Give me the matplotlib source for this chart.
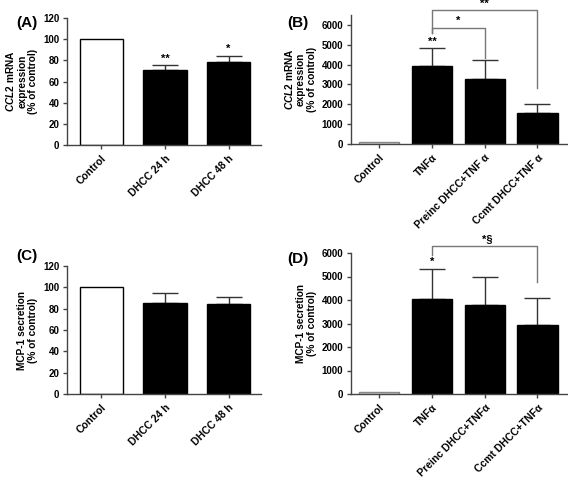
import matplotlib
matplotlib.use("Agg")
import matplotlib.pyplot as plt

plt.rcParams['font.family'] = ['Liberation Sans', 'DejaVu Sans']
plt.rcParams['font.weight'] = 'bold'
plt.rcParams['mathtext.fontset'] = 'custom'
plt.rcParams['mathtext.it'] = 'Liberation Sans:italic:bold'
plt.rcParams['mathtext.rm'] = 'Liberation Sans:bold'

# Data
cat_ac = ["Control", "DHCC 24 h", "DHCC 48 h"]
a_vals = [100, 71, 78]
a_err = [0, 4.5, 6.5]
a_sig = ["", "**", "*"]

cat_b = ["Control", "TNFα", "Preinc DHCC+TNF α", "Ccmt DHCC+TNF α"]
b_vals = [100, 3950, 3280, 1580]
b_err = [0, 880, 970, 420]
b_sig = ["", "**", "", ""]

c_vals = [100, 85, 84]
c_err = [0, 9.5, 7]

cat_d = ["Control", "TNFα", "Preinc DHCC+TNFα", "Ccmt DHCC+TNFα"]
d_vals = [100, 4030, 3800, 2940]
d_err = [0, 1290, 1160, 1160]
d_sig = ["", "*", "", ""]

W, H = 568, 482
fig = plt.figure(figsize=(W / 100, H / 100), dpi=100)

XTICKFS = 7.5
YTICKFS = 7
LABFS = 7.3


def ax_px(x0, x1, ytop, ybot):
    return fig.add_axes([x0 / W, 1 - ybot / H, (x1 - x0) / W, (ybot - ytop) / H])


def style(ax):
    for s in ['top', 'right']:
        ax.spines[s].set_visible(False)
    for s in ['left', 'bottom']:
        ax.spines[s].set_color('#444444')
        ax.spines[s].set_linewidth(1.0)
    ax.tick_params(axis='both', direction='out', length=3, width=1, colors='#444444',
                   labelcolor='black')
    ax.tick_params(axis='y', labelsize=YTICKFS, pad=2.5)
    ax.tick_params(axis='x', labelsize=XTICKFS, pad=3)
    for lab in ax.get_yticklabels():
        lab.set_fontweight('bold')


def bars(ax, cats, vals, errs, width, first_gray):
    x = list(range(len(cats)))
    fcs = ['#dcdcdc' if first_gray else 'white'] + ['black'] * (len(cats) - 1)
    ecs = ['#888888' if first_gray else 'black'] + ['black'] * (len(cats) - 1)
    ax.bar(x, vals, width=width, color=fcs, edgecolor=ecs, linewidth=1.0, zorder=2)
    for xi, v, e in zip(x, vals, errs):
        if e > 0:
            ax.errorbar(xi, v, yerr=[[0], [e]], fmt='none', ecolor='#333333',
                        elinewidth=1.0, capsize=9.5, capthick=1.0, zorder=1)
    ax.set_xticks(x)
    ax.set_xticklabels(cats, rotation=45, ha='right', rotation_mode='anchor',
                       fontsize=XTICKFS, fontweight='bold')


def ylab(ax, s):
    ax.set_ylabel(s, fontsize=LABFS, fontweight='bold', labelpad=3.5, linespacing=1.12)


# Panel A
axA = ax_px(67, 261, 18, 145)
bars(axA, cat_ac, a_vals, a_err, 0.68, False)
axA.set_xlim(-0.54, 2.51)
axA.set_ylim(0, 120)
axA.set_yticks(range(0, 121, 20))
style(axA)
ylab(axA, "$\\it{CCL2}$ mRNA\nexpression\n(% of control)")
for i, (v, e, s) in enumerate(zip(a_vals, a_err, a_sig)):
    if s:
        axA.text(i, v + e + 1.5, s, ha='center', va='bottom', fontsize=8, fontweight='bold')

# Panel B
axB = ax_px(351, 567, 15, 144)
bars(axB, cat_b, b_vals, b_err, 0.76, True)
axB.set_xlim(-0.54, 3.56)
axB.set_ylim(0, 6500)
axB.set_yticks(range(0, 6001, 1000))
style(axB)
ylab(axB, "$\\it{CCL2}$ mRNA\nexpression\n(% of control)")
for i, (v, e, s) in enumerate(zip(b_vals, b_err, b_sig)):
    if s:
        axB.text(i, v + e + 80, s, ha='center', va='bottom', fontsize=8, fontweight='bold')
br = dict(color='#777777', lw=1.0, clip_on=False)
axB.plot([1, 1, 2, 2], [5600, 5850, 5850, 4340], **br)
axB.text(1.5, 5930, "*", ha='center', va='bottom', fontsize=8, fontweight='bold')
axB.plot([1, 1, 3, 3], [5600, 6760, 6760, 2820], **br)
axB.text(2.0, 6790, "**", ha='center', va='bottom', fontsize=8, fontweight='bold')

# Panel C
axC = ax_px(67, 261, 266, 394)
bars(axC, cat_ac, c_vals, c_err, 0.68, False)
axC.set_xlim(-0.54, 2.51)
axC.set_ylim(0, 120)
axC.set_yticks(range(0, 121, 20))
style(axC)
ylab(axC, "MCP-1 secretion\n(% of control)")

# Panel D
axD = ax_px(351, 567, 253, 394)
bars(axD, cat_d, d_vals, d_err, 0.76, True)
axD.set_xlim(-0.54, 3.56)
axD.set_ylim(0, 6000)
axD.set_yticks(range(0, 6001, 1000))
style(axD)
ylab(axD, "MCP-1 secretion\n(% of control)")
for i, (v, e, s) in enumerate(zip(d_vals, d_err, d_sig)):
    if s:
        axD.text(i, v + e + 80, s, ha='center', va='bottom', fontsize=8, fontweight='bold')
axD.plot([1, 1, 3, 3], [5900, 6300, 6300, 4770], **br)
axD.text(2.05, 6360, "*§", ha='center', va='bottom', fontsize=8, fontweight='bold')

# Panel letters
fig.text(16 / W, 1 - 23 / H, "(A)", fontsize=11, fontweight='bold', va='center')
fig.text(287 / W, 1 - 23 / H, "(B)", fontsize=11, fontweight='bold', va='center')
fig.text(16 / W, 1 - 256 / H, "(C)", fontsize=11, fontweight='bold', va='center')
fig.text(287 / W, 1 - 259 / H, "(D)", fontsize=11, fontweight='bold', va='center')

fig.savefig("out.png", dpi=100)
